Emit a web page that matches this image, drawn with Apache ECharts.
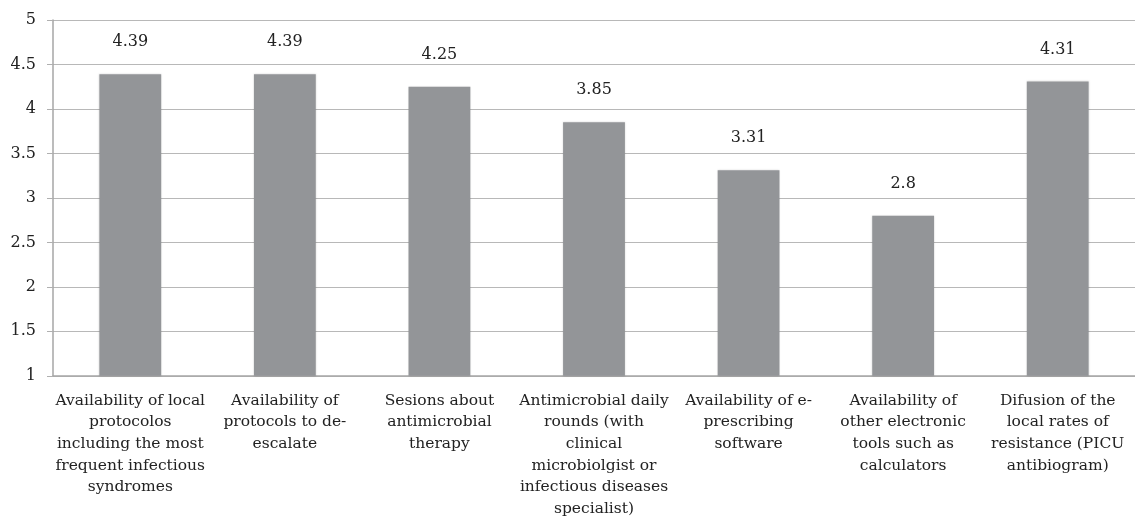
<!DOCTYPE html>
<html>
  <head>
    <meta charset="utf-8" />
    <title>Antimicrobial stewardship</title>
    <script src="https://cdn.jsdelivr.net/npm/echarts@6/dist/echarts.min.js"></script>
    <style>
      * {
        margin: 0;
        padding: 0;
        box-sizing: border-box;
      }
    </style>
  </head>
  <body>
    <div id="main" style="width: 1135px; height: 520px"></div>
    <script type="text/javascript">
      var myChart = echarts.init(document.getElementById("main"));

      const categories = [
        "Availability of local\nprotocolos\nincluding the most\nfrequent infectious\nsyndromes",
        "Availability of\nprotocols to de-\nescalate",
        "Sesions about\nantimicrobial\ntherapy",
        "Antimicrobial daily\nrounds (with\nclinical\nmicrobiolgist or\ninfectious diseases\nspecialist)",
        "Availability of e-\nprescribing\nsoftware",
        "Availability of\nother electronic\ntools such as\ncalculators",
        "Difusion of the\nlocal rates of\nresistance (PICU\nantibiogram)",
      ];
      const scores = [4.39, 4.39, 4.25, 3.85, 3.31, 2.8, 4.31];

      const font = "'DejaVu Serif', 'Liberation Serif', serif";

      var option = {
        animation: false,
        grid: {
          left: 53,
          right: -10,
          top: 20,
          bottom: 140,
        },
        xAxis: {
          type: "category",
          data: categories,
          axisLine: { lineStyle: { color: "#a6a6a6", width: 1.5 } },
          axisTick: { length: 5, lineStyle: { color: "#c0c0c0" } },
          axisLabel: {
            interval: 0,
            margin: 14,
            color: "#222",
            fontFamily: font,
            fontSize: 15.5,
            lineHeight: 21.7,
          },
        },
        yAxis: {
          type: "value",
          min: 1,
          max: 5,
          interval: 0.5,
          axisLine: { show: true, lineStyle: { color: "#a6a6a6", width: 1.5 } },
          axisTick: { show: true, inside: false, length: 6, lineStyle: { color: "#b0b0b0" } },
          splitLine: { lineStyle: { color: "#b8b8b8", width: 1.2 } },
          axisLabel: {
            margin: 17,
            color: "#222",
            fontFamily: font,
            fontSize: 16,
          },
        },
        series: [
          {
            type: "bar",
            data: scores,
            barWidth: "40%",
            itemStyle: {
              color: "#939598",
              shadowColor: "rgba(0,0,0,0.15)",
              shadowBlur: 2,
            },
            label: {
              show: true,
              position: "top",
              distance: 24,
              color: "#222",
              fontFamily: font,
              fontSize: 16,
            },
          },
        ],
      };

      myChart.setOption(option);
    </script>
  </body>
</html>
